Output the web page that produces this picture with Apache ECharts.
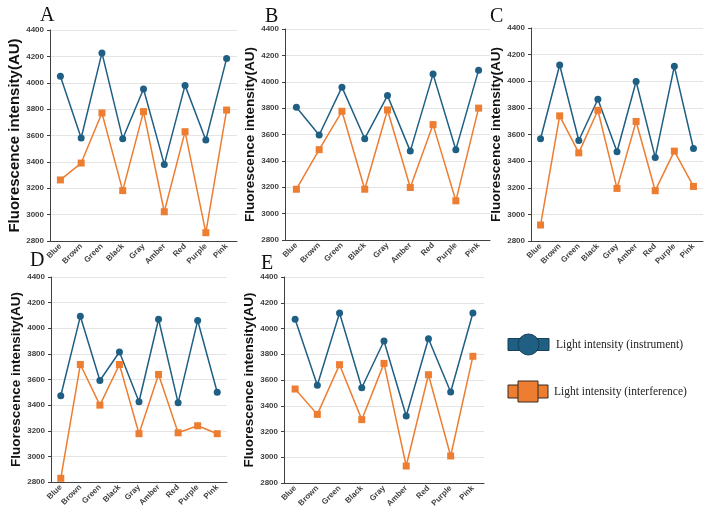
<!DOCTYPE html>
<html>
<head>
<meta charset="utf-8">
<script src="https://cdn.jsdelivr.net/npm/echarts@6/dist/echarts.min.js"></script>
<style>
  html, body { margin: 0; padding: 0; background: #fff; }
  #chart { width: 717px; height: 518px; }
</style>
</head>
<body>
<div id="chart"></div>
<script>
var categories = ['Blue', 'Brown', 'Green', 'Black', 'Gray', 'Amber', 'Red', 'Purple', 'Pink'];
var yTicks = [2800, 3000, 3200, 3400, 3600, 3800, 4000, 4200, 4400];

// instrument = blue circles, interference = orange squares
var instA = [4049, 3581, 4226, 3576, 3953, 3381, 3980, 3566, 4183];
var intfA = [3263, 3391, 3771, 3182, 3781, 3022, 3629, 2863, 3793];
var instB = [3807, 3596, 3959, 3568, 3895, 3474, 4058, 3485, 4088];
var intfB = [3185, 3485, 3776, 3185, 3786, 3198, 3675, 3097, 3800];
var instC = [3568, 4122, 3555, 3865, 3470, 3998, 3428, 4112, 3495];
var intfC = [2920, 3740, 3462, 3782, 3195, 3698, 3178, 3475, 3210];
var instD = [3473, 4093, 3592, 3815, 3426, 4070, 3418, 4060, 3501];
var intfD = [2829, 3717, 3400, 3717, 3177, 3639, 3184, 3239, 3177];
var instE = [4071, 3559, 4120, 3540, 3903, 3320, 3921, 3507, 4120];
var intfE = [3530, 3333, 3719, 3292, 3729, 2932, 3641, 3010, 3784];

var panelLetters = ['A', 'B', 'C', 'D', 'E'];
var instData = [instA, instB, instC, instD, instE];
var intfData = [intfA, intfB, intfC, intfD, intfE];

var blue = '#1f5f84';
var orange = '#ed7d31';

// plot boxes in pixels
var grids = [
    {left: 50, top: 30, width: 187, height: 211},
    {left: 285, top: 29, width: 205, height: 211},
    {left: 531, top: 28, width: 172, height: 213},
    {left: 51, top: 277, width: 176, height: 205},
    {left: 284, top: 277, width: 200, height: 206}
];
var nameSizes = [15, 13.5, 13.5, 13.5, 13.5];
var letterPos = [[40, 16], [265, 17], [490, 17], [30, 261], [261, 264]];

var myChart = echarts.init(document.getElementById('chart'));

var xAxes = [], yAxes = [], series = [], graphics = [];
for (var i = 0; i < 5; i++) {
    xAxes.push({
        gridIndex: i,
        type: 'category',
        data: categories,
        axisLine: {lineStyle: {color: '#404040', width: 1}},
        axisTick: {length: 4, lineStyle: {color: '#404040'}},
        axisLabel: {
            interval: 0,
            rotate: 45,
            margin: 4,
            fontSize: 8,
            fontWeight: 'bold',
            fontFamily: 'Liberation Sans',
            color: '#404040'
        }
    });
    yAxes.push({
        gridIndex: i,
        type: 'value',
        min: yTicks[0],
        max: yTicks[yTicks.length - 1],
        interval: 200,
        name: 'Fluorescence intensity(AU)',
        nameLocation: 'middle',
        nameGap: 25,
        nameTextStyle: {
            fontSize: nameSizes[i],
            fontWeight: 'bold',
            fontFamily: 'Liberation Sans',
            color: '#111'
        },
        axisLine: {show: true, lineStyle: {color: '#404040', width: 1}},
        axisTick: {show: true, length: 3, lineStyle: {color: '#404040'}},
        axisLabel: {
            margin: 6,
            fontSize: 8,
            fontWeight: 'bold',
            fontFamily: 'Liberation Sans',
            color: '#404040',
            formatter: function (v) { return String(v); }
        },
        splitLine: {lineStyle: {color: '#e4e4e4', width: 1}}
    });
    series.push({
        name: 'Light intensity (instrument)',
        type: 'line',
        xAxisIndex: i,
        yAxisIndex: i,
        data: instData[i],
        symbol: 'circle',
        symbolSize: 7,
        lineStyle: {color: blue, width: 1.5},
        itemStyle: {color: blue}
    });
    series.push({
        name: 'Light intensity (interference)',
        type: 'line',
        xAxisIndex: i,
        yAxisIndex: i,
        data: intfData[i],
        symbol: 'rect',
        symbolSize: 7,
        lineStyle: {color: orange, width: 1.5},
        itemStyle: {color: orange}
    });
    graphics.push({
        type: 'text',
        style: {
            text: panelLetters[i],
            x: letterPos[i][0],
            y: letterPos[i][1],
            fontSize: 20,
            fontFamily: 'Liberation Serif',
            fill: '#111',
            verticalAlign: 'middle'
        }
    });
}

// legend drawn by hand (line + big marker, like the original)
graphics.push(
    {type: 'rect', shape: {x: 508, y: 338.5, width: 41, height: 12},
        style: {fill: blue, stroke: '#163f58', lineWidth: 1}},
    {type: 'circle', shape: {cx: 528.5, cy: 344.5, r: 10.5},
        style: {fill: blue, stroke: '#163f58', lineWidth: 1}},
    {type: 'text', style: {text: 'Light intensity (instrument)', x: 556, y: 345,
        fontSize: 11.5, fontFamily: 'Liberation Serif', fill: '#222', verticalAlign: 'middle'}},
    {type: 'rect', shape: {x: 508, y: 385, width: 40, height: 13},
        style: {fill: orange, stroke: '#3a2a20', lineWidth: 1}},
    {type: 'rect', shape: {x: 518, y: 381, width: 20, height: 21},
        style: {fill: orange, stroke: '#3a2a20', lineWidth: 1}},
    {type: 'text', style: {text: 'Light intensity (interference)', x: 554, y: 392,
        fontSize: 11.5, fontFamily: 'Liberation Serif', fill: '#222', verticalAlign: 'middle'}}
);

var option = {
    backgroundColor: '#fff',
    animation: false,
    grid: grids,
    xAxis: xAxes,
    yAxis: yAxes,
    series: series,
    graphic: graphics
};
myChart.setOption(option);
</script>
</body>
</html>
